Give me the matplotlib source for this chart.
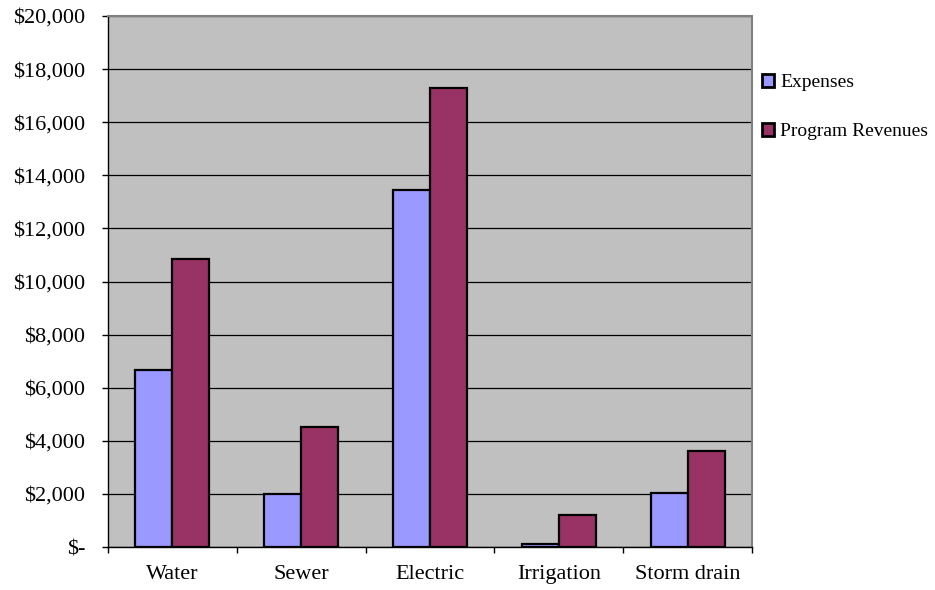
import numpy as np
import matplotlib
matplotlib.use('Agg')
import matplotlib.pyplot as plt
from matplotlib.ticker import FixedLocator, FuncFormatter

plt.rcParams['font.family'] = ['Liberation Serif', 'DejaVu Serif']

# data
categories = ['Water', 'Sewer', 'Electric', 'Irrigation', 'Storm drain']
expenses = [6650, 2000, 13450, 100, 2030]
revenues = [10850, 4520, 17290, 1200, 3620]
series_names = ['Expenses', 'Program Revenues']

fig = plt.figure(figsize=(9.35, 5.9), dpi=100)
ax = fig.add_axes([108/935, 43/590, 644/935, 531/590])
ax.set_facecolor('#C0C0C0')

x = np.arange(len(categories))
w = 0.287
ax.bar(x - w/2, expenses, w, color='#9999FF', edgecolor='black', linewidth=1.6,
       label=series_names[0], zorder=3)
ax.bar(x + w/2, revenues, w, color='#993366', edgecolor='black', linewidth=1.6,
       label=series_names[1], zorder=3)

ax.set_xlim(-0.5, len(categories) - 0.5)
ax.set_ylim(0, 20000)
ax.set_yticks(np.arange(0, 20001, 2000))
ax.yaxis.set_major_formatter(FuncFormatter(lambda v, p: '$-' if v == 0 else '${:,.0f}'.format(v)))
ax.yaxis.grid(True, color='black', linewidth=0.9, zorder=1)
ax.set_axisbelow(True)

ax.set_xticks(x)
ax.set_xticklabels(categories)
ax.xaxis.set_minor_locator(FixedLocator(np.arange(-0.5, len(categories), 1.0)))
ax.tick_params(axis='x', which='major', length=0, pad=13, labelsize=16)
ax.tick_params(axis='x', which='minor', length=4.5, direction='out', width=1)
ax.tick_params(axis='y', length=4.5, direction='out', width=1, pad=12, labelsize=16)

for s in ['top', 'right']:
    ax.spines[s].set_color('#808080')
    ax.spines[s].set_linewidth(1.5)
for s in ['left', 'bottom']:
    ax.spines[s].set_color('black')
    ax.spines[s].set_linewidth(1)

leg = fig.legend(loc='upper left', bbox_to_anchor=(752/935, 1 - 64/590),
                 frameon=False, fontsize=14, handlelength=0.65, handleheight=0.65,
                 handletextpad=0.3, labelspacing=1.65, borderpad=0)
for h in leg.legend_handles:
    h.set_linewidth(2)

fig.savefig('out.png', dpi=100)
